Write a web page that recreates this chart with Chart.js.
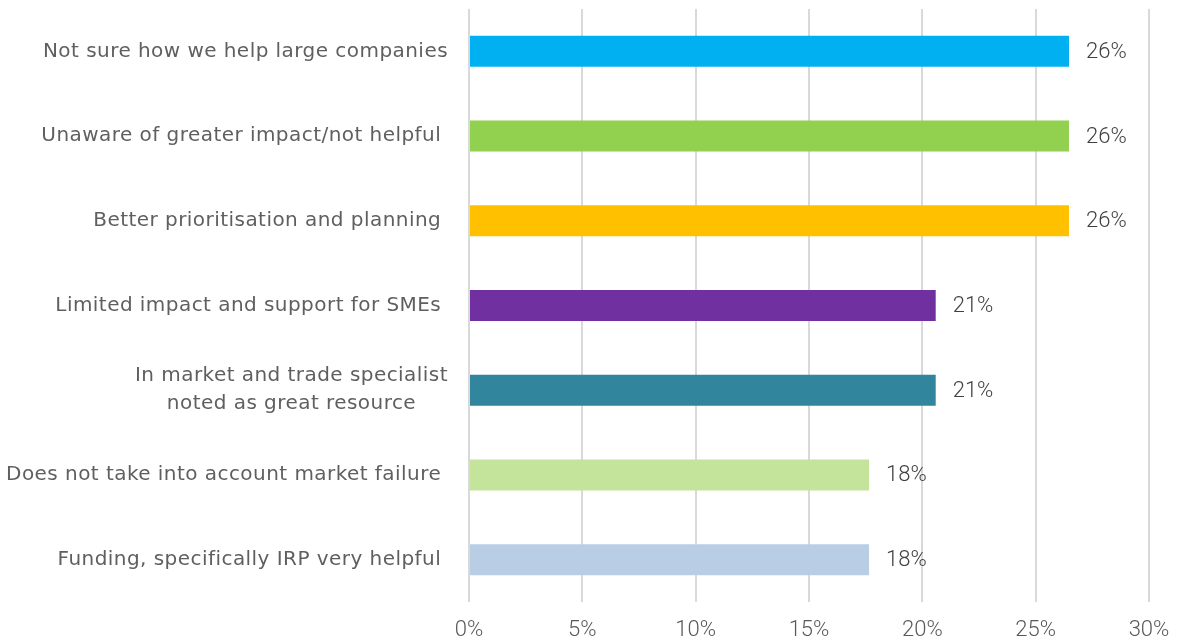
<!DOCTYPE html>
<html>
<head>
<meta charset="utf-8">
<script src="https://cdn.jsdelivr.net/npm/chart.js@4"></script>
<style>
  html, body { margin: 0; padding: 0; background: #ffffff; overflow: hidden; }
  canvas { display: block; }
</style>
</head>
<body>
<canvas id="chart" width="1179" height="643"></canvas>
<script>
// Survey feedback themes (share of respondents, n = 34)
const categories = [
  'Not sure how we help large companies',
  'Unaware of greater impact/not helpful ',
  'Better prioritisation and planning ',
  'Limited impact and support for SMEs ',
  ['In market and trade specialist', 'noted as great resource'],
  'Does not take into account market failure ',
  'Funding, specifically IRP very helpful '
];
const shares = [26.47, 26.47, 26.47, 20.59, 20.59, 17.65, 17.65];
const barColors = ['#00B0F0', '#92D050', '#FFC000', '#7030A0', '#31859C', '#C3E49A', '#B9CDE5'];
const tickValues = [0, 5, 10, 15, 20, 25, 30];

const CAT_FONT = '"DejaVu Sans", sans-serif';
const NUM_FONT = 'Roboto, "DejaVu Sans", sans-serif';
const CAT_SIZE = 20;
const NUM_SIZE = 22;

// Category labels: right-aligned block, multi-line labels centred within their block
const categoryLabels = {
  id: 'categoryLabels',
  afterDraw(chart) {
    const ctx = chart.ctx;
    const y = chart.scales.y;
    const rightEdge = chart.chartArea.left - 21;
    ctx.save();
    ctx.font = CAT_SIZE + 'px ' + CAT_FONT;
    if ('letterSpacing' in ctx) ctx.letterSpacing = '0.45px';
    ctx.fillStyle = '#5f5f5f';
    ctx.textBaseline = 'middle';
    ctx.textAlign = 'center';
    const lineH = 28;
    categories.forEach((lab, i) => {
      const lines = Array.isArray(lab) ? lab : [lab];
      const cy = y.getPixelForValue(i);
      const blockW = Math.max(...lines.map(l => ctx.measureText(l).width));
      const startY = cy - (lines.length - 1) * lineH / 2;
      lines.forEach((l, k) => {
        ctx.fillText(l, rightEdge - blockW / 2, startY + k * lineH);
      });
    });
    ctx.restore();
  }
};

// Value labels just past the end of each bar
const valueLabels = {
  id: 'valueLabels',
  afterDatasetsDraw(chart) {
    const ctx = chart.ctx;
    const meta = chart.getDatasetMeta(0);
    ctx.save();
    ctx.font = '300 ' + NUM_SIZE + 'px ' + NUM_FONT;
    ctx.fillStyle = '#404040';
    ctx.textAlign = 'left';
    ctx.textBaseline = 'middle';
    meta.data.forEach((bar, i) => {
      ctx.fillText(Math.round(shares[i]) + '%', bar.x + 17, bar.y + 1);
    });
    ctx.restore();
  }
};

new Chart(document.getElementById('chart'), {
  type: 'bar',
  data: {
    labels: categories,
    datasets: [{
      data: shares,
      backgroundColor: barColors,
      borderWidth: 0,
      categoryPercentage: 1,
      barPercentage: 0.366
    }]
  },
  options: {
    indexAxis: 'y',
    responsive: false,
    animation: false,
    layout: { padding: { top: 9, right: 30, left: 0, bottom: 0 } },
    plugins: { legend: { display: false }, tooltip: { enabled: false } },
    scales: {
      x: {
        min: 0,
        max: 30,
        afterBuildTicks(scale) { scale.ticks = tickValues.map(v => ({ value: v })); },
        afterFit(scale) {
          scale.height = 41;
          scale.paddingLeft = 0;
          scale.paddingRight = 0;
        },
        grid: { color: '#d9d9d9', lineWidth: 2, drawTicks: false },
        border: { display: false },
        ticks: {
          padding: 15,
          color: '#595959',
          font: { family: NUM_FONT, size: NUM_SIZE, weight: '300' },
          callback: v => v + '%'
        }
      },
      y: {
        afterFit(scale) { scale.width = 469; },
        grid: { display: false, drawTicks: false },
        border: { display: false },
        ticks: { display: false }
      }
    }
  },
  plugins: [categoryLabels, valueLabels]
});
</script>
</body>
</html>
